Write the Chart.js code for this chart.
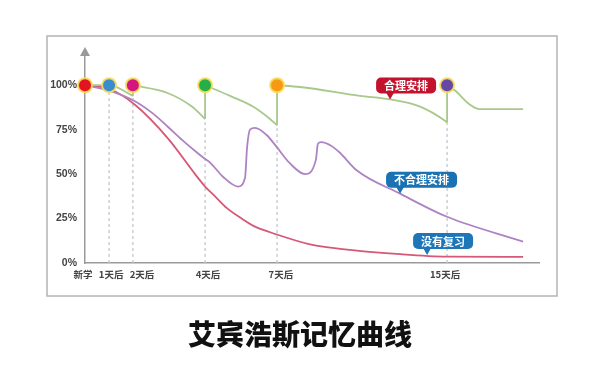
<!DOCTYPE html>
<html>
<head>
<meta charset="utf-8">
<script src="https://cdn.jsdelivr.net/npm/chart.js@4"></script>
<style>
  html, body { margin: 0; padding: 0; background: #fff; }
  #wrap { position: relative; width: 600px; height: 374px; }
  #titulo {
    position: absolute; left: 0; top: 317px; width: 600px;
    text-align: center; font-family: "Noto Sans CJK SC", sans-serif;
    font-size: 28px; font-weight: 900; line-height: 32px; color: #111;
  }
</style>
</head>
<body>
<div id="wrap">
  <canvas id="myChart" width="600" height="374"></canvas>
  <div id="titulo">艾宾浩斯记忆曲线</div>
</div>
<script>
// Posiciones del eje x (unidades del dibujo, no lineales en días)
const xTickPos = [0, 1.06, 2.11, 5.29, 8.46, 15.95];
const xLabelPos = [-0.09, 1.15, 2.51, 5.42, 8.63, 15.86];
const xTickLabels = ['新学', '1天后', '2天后', '4天后', '7天后', '15天后'];
const yTicks = [0, 25, 50, 75, 100];

// 合理安排 (verde) - los saltos verticales son puntos con la misma x
const reasonX = [0, 1.06, 2.11, 2.11, 3.66, 4.71, 5.29, 5.29, 6.39, 7.4, 8.15, 8.46, 8.46, 9.47, 12.11, 13.44, 14.76, 15.86, 15.95, 15.95, 16.3, 16.96, 17.4, 19.3];
const reasonY = [100, 100, 94, 100, 95.5, 88, 81, 100, 94, 88, 81, 77.5, 100, 99, 94, 92, 88, 80, 79, 100, 97, 89, 86.5, 86.5];

// 不合理安排 (morado)
const badX = [0, 1.06, 2.2, 3.0, 3.66, 4.3, 4.85, 5.29, 5.51, 6.08, 6.74, 7.05, 7.14, 7.27, 7.49, 8.0, 8.46, 9.03, 9.69, 10.17, 10.26, 10.4, 10.84, 11.23, 11.98, 13.88, 15.95, 19.3];
const badY = [100, 97, 91, 84, 76.5, 69, 63, 58.5, 56.5, 48.5, 43, 48, 65, 75, 76, 72, 65, 56, 50, 58, 67, 68, 66, 62, 52, 39, 26, 12];

// 没有复习 (rojo)
const noReviewX = [0, 1.06, 2.2, 3.66, 4.85, 5.29, 5.73, 6.24, 6.96, 7.4, 8.46, 9.91, 11.23, 13.88, 15.95, 19.3];
const noReviewY = [100, 98, 89, 70, 50, 43, 37.5, 31, 24.5, 21, 16, 10.5, 8, 5, 3.6, 3.4];

// Puntos de repaso y líneas guía punteadas
const reviewColors = ['#e3131f', '#3a8ccf', '#d4177c', '#27ae47', '#f59a12', '#6548a6'];
const guideTop = [100, 94, 81, 77.5, 79];

// Etiquetas tipo globo
const callouts = [
  { text: '合理安排', x: 13.44, y: 92, color: '#c3122c' },
  { text: '不合理安排', x: 13.88, y: 39, color: '#1b72b3' },
  { text: '没有复习', x: 15.07, y: 4.5, color: '#1d76b8' }
];

const zip = (xs, ys) => xs.map((x, i) => ({ x: x, y: ys[i] }));

// Separar la curva verde en tramos y saltos
const greenSegs = [];
const greenJumps = [];
let seg = [];
reasonX.forEach((x, i) => {
  if (i > 0 && x === reasonX[i - 1]) {
    greenSegs.push(seg);
    greenJumps.push({ x: x, y: reasonY[i - 1] }, { x: x, y: reasonY[i] }, { x: x, y: null });
    seg = [];
  }
  seg.push({ x: x, y: reasonY[i] });
});
greenSegs.push(seg);

const guides = [];
xTickPos.slice(1).forEach((x, i) => {
  guides.push({ x: x, y: 0 }, { x: x, y: guideTop[i] }, { x: x, y: null });
});

const lineaBase = { pointRadius: 0, fill: false, cubicInterpolationMode: 'monotone', borderWidth: 1.8 };

const datasets = [
  {
    type: 'scatter', data: xTickPos.map(x => ({ x: x, y: 100 })), clip: false,
    pointRadius: 7, pointBackgroundColor: reviewColors,
    pointBorderColor: 'rgba(250,222,95,0.9)', pointBorderWidth: 2
  },
  ...greenSegs.map(s => Object.assign({ data: s, borderColor: '#a8c88c' }, lineaBase)),
  { data: greenJumps, borderColor: '#a8c88c', borderWidth: 1.8, pointRadius: 0, spanGaps: false },
  Object.assign({ data: zip(badX, badY), borderColor: '#ad83c2' }, lineaBase),
  Object.assign({ data: zip(noReviewX, noReviewY), borderColor: '#d65877' }, lineaBase),
  { data: guides, borderColor: '#c2c8ce', borderWidth: 1.3, borderDash: [3, 3], pointRadius: 0, spanGaps: false }
];

function roundRect(ctx, x, y, w, h, r) {
  ctx.beginPath();
  ctx.moveTo(x + r, y);
  ctx.arcTo(x + w, y, x + w, y + h, r);
  ctx.arcTo(x + w, y + h, x, y + h, r);
  ctx.arcTo(x, y + h, x, y, r);
  ctx.arcTo(x, y, x + w, y, r);
  ctx.closePath();
}

const decoracion = {
  id: 'decoracion',
  beforeDraw(chart) {
    const ctx = chart.ctx;
    ctx.save();
    ctx.strokeStyle = '#b4b4b4';
    ctx.lineWidth = 1.5;
    ctx.strokeRect(47, 36, 510, 260);
    ctx.restore();
  },
  afterDraw(chart) {
    const ctx = chart.ctx;
    const xs = chart.scales.x, ys = chart.scales.y;
    // flecha del eje y
    const ax = xs.getPixelForValue(0);
    const top = chart.chartArea.top;
    ctx.save();
    ctx.fillStyle = '#9a9a9a';
    ctx.beginPath();
    ctx.moveTo(ax, top - 8);
    ctx.lineTo(ax - 5, top + 1);
    ctx.lineTo(ax + 5, top + 1);
    ctx.closePath();
    ctx.fill();

    // globos
    ctx.font = 'bold 11px "Noto Sans CJK SC"';
    ctx.textAlign = 'center';
    ctx.textBaseline = 'middle';
    callouts.forEach(c => {
      const tx = xs.getPixelForValue(c.x);
      const ty = ys.getPixelForValue(c.y);
      const w = ctx.measureText(c.text).width + 16;
      const h = 16;
      const left = tx - 14;
      const bottom = ty - 6;
      ctx.fillStyle = c.color;
      roundRect(ctx, left, bottom - h, w, h, 5);
      ctx.fill();
      ctx.beginPath();
      ctx.moveTo(tx - 4, bottom - 1);
      ctx.lineTo(tx + 4, bottom - 1);
      ctx.lineTo(tx, ty);
      ctx.closePath();
      ctx.fill();
      ctx.fillStyle = '#fff';
      ctx.fillText(c.text, left + w / 2, bottom - h / 2 + 0.5);
    });
    ctx.restore();
  }
};

new Chart(document.getElementById('myChart'), {
  type: 'line',
  data: { datasets: datasets },
  options: {
    responsive: false,
    animation: false,
    devicePixelRatio: 1,
    layout: { padding: { left: 40, right: 61, top: 55, bottom: 86 } },
    plugins: { legend: { display: false }, tooltip: { enabled: false } },
    scales: {
      x: {
        type: 'linear', min: 0, max: 20,
        afterFit: s => { s.height = 25; },
        afterBuildTicks: s => { s.ticks = xLabelPos.map(v => ({ value: v })); },
        grid: { display: false, drawTicks: false },
        border: { display: true, color: '#9a9a9a', width: 1.5 },
        ticks: {
          autoSkip: false, maxRotation: 0, padding: 6, color: '#444',
          font: { family: '"Noto Sans CJK SC"', size: 9.5, weight: 'bold' },
          callback: (v, i) => xTickLabels[i]
        }
      },
      y: {
        min: 0, max: 117,
        afterFit: s => { s.width = 45; },
        afterBuildTicks: s => { s.ticks = yTicks.map(v => ({ value: v })); },
        grid: { display: false, drawTicks: false },
        border: { display: true, color: '#9a9a9a', width: 1.5 },
        ticks: {
          padding: 8, color: '#444',
          font: { family: 'Liberation Sans', size: 10.5, weight: 'bold' },
          callback: v => v + '%'
        }
      }
    }
  },
  plugins: [decoracion]
});
</script>
</body>
</html>
